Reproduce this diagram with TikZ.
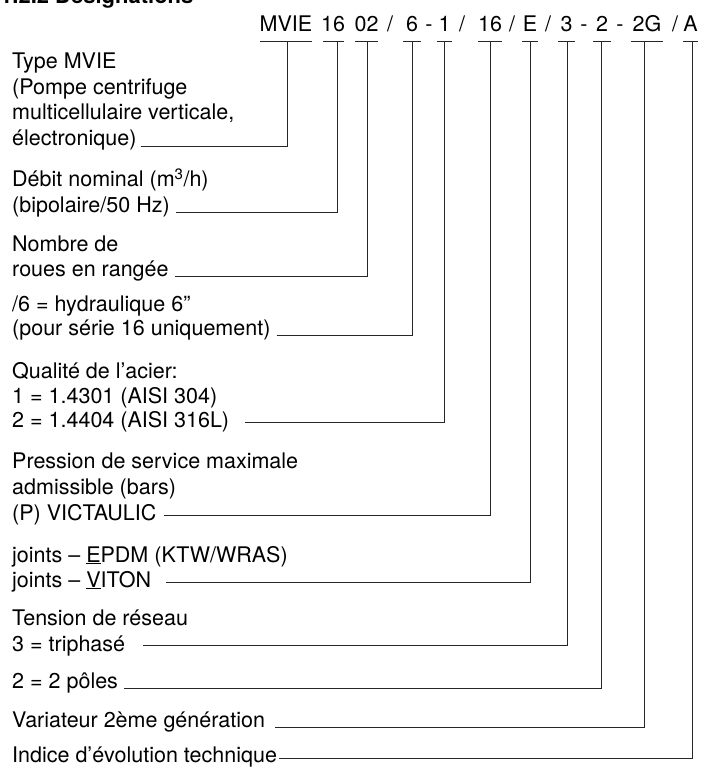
\documentclass[tikz,border=0pt]{standalone}
\usepackage{fontspec}
\setmainfont{TeX Gyre Heros}
\newcommand\lbfont{\fontsize{21.5}{24}\selectfont}
\newcommand\ttlfont{\fontsize{22}{24}\selectfont\bfseries}
\tikzset{
  lbl/.style={anchor=base west, inner sep=0pt, font=\lbfont},
  codetok/.style={anchor=base, inner sep=0pt, font=\lbfont},
  ttl/.style={anchor=base west, inner sep=0pt, font=\ttlfont},
  bar/.style={line width=0.9pt, black!85},
  lead/.style={line width=0.9pt, black!85},
}
\begin{document}
\begin{tikzpicture}[x=1pt,y=-1pt]
\fill[white] (0,0) rectangle (702,767);
\useasboundingbox (0,0) rectangle (702,767);
\begin{scope}
\clip (0,0) rectangle (702,767);
% title (cut by the top edge)
\node[ttl] (title) at (0,4) {1.2.2 Désignations};

% code line
\def\cb{32}
\node[codetok] (c1) at (286,\cb) {MVIE};
\node[codetok] (c2) at (333,\cb) {16};
\node[codetok] (c3) at (366.5,\cb) {02};
\node[codetok] (s1) at (390,\cb) {/};
\node[codetok] (c4) at (412,\cb) {6};
\node[codetok] (s2) at (429,\cb) {-};
\node[codetok] (c5) at (444.5,\cb) {1};
\node[codetok] (s3) at (462,\cb) {/};
\node[codetok] (c6) at (490,\cb) {16};
\node[codetok] (s4) at (512,\cb) {/};
\node[codetok] (c7) at (530,\cb) {E};
\node[codetok] (s5) at (548,\cb) {/};
\node[codetok] (c8) at (566.5,\cb) {3};
\node[codetok] (s6) at (584,\cb) {-};
\node[codetok] (c9) at (602,\cb) {2};
\node[codetok] (s7) at (620,\cb) {-};
\node[codetok] (c10) at (647,\cb) {2G};
\node[codetok] (s8) at (675,\cb) {/};
\node[codetok] (c11) at (690.5,\cb) {A};

% bars under the code parts
\def\by{41}
\draw[bar] (260,\by) -- (312,\by);
\draw[bar] (323,\by) -- (344,\by);
\draw[bar] (355,\by) -- (378,\by);
\draw[bar] (403,\by) -- (421,\by);
\draw[bar] (437,\by) -- (452,\by);
\draw[bar] (478,\by) -- (502,\by);
\draw[bar] (522,\by) -- (538,\by);
\draw[bar] (558,\by) -- (575,\by);
\draw[bar] (593,\by) -- (611,\by);
\draw[bar] (631,\by) -- (663,\by);
\draw[bar] (683,\by) -- (698,\by);
\coordinate (v1) at (287,\by);
\coordinate (v2) at (337,\by);
\coordinate (v3) at (367,\by);
\coordinate (v4) at (412,\by);
\coordinate (v5) at (444,\by);
\coordinate (v6) at (490,\by);
\coordinate (v7) at (530,\by);
\coordinate (v8) at (567,\by);
\coordinate (v9) at (601,\by);
\coordinate (v10) at (644,\by);
\coordinate (v11) at (692,\by);

% descriptions
\def\lx{12}
\node[lbl] (t1a) at (\lx,69) {Type MVIE};
\node[lbl] (t1b) at (\lx,94.5) {(Pompe centrifuge};
\node[lbl] (t1c) at (\lx,120) {multicellulaire verticale,};
\node[lbl] (t1) at (\lx,146) {électronique)};

\node[lbl] (t2a) at (\lx,187) {Débit nominal (m\textsuperscript{3}/h)};
\node[lbl] (t2) at (\lx,212) {(bipolaire/50 Hz)};

\node[lbl] (t3a) at (\lx,251) {Nombre de};
\node[lbl] (t3) at (\lx,276) {roues en rangée};

\node[lbl] (t4a) at (\lx,311) {/6 = hydraulique 6”};
\node[lbl] (t4) at (\lx,335) {(pour série 16 uniquement)};

\node[lbl] (t5a) at (\lx,378) {Qualité de l’acier:};
\node[lbl] (t5b) at (\lx,403) {1 = 1.4301 (AISI 304)};
\node[lbl] (t5) at (\lx,427) {2 = 1.4404 (AISI 316L)};

\node[lbl] (t6a) at (\lx,468) {Pression de service maximale};
\node[lbl] (t6b) at (\lx,494) {admissible (bars)};
\node[lbl] (t6) at (\lx,520) {(P) VICTAULIC};

\node[lbl] (t7a) at (\lx,562) {joints – \underline{E}PDM (KTW/WRAS)};
\node[lbl] (t7) at (\lx,587) {joints – \underline{V}ITON};

\node[lbl] (t8a) at (\lx,625) {Tension de réseau};
\node[lbl] (t8) at (\lx,651) {3 = triphasé};

\node[lbl] (t9) at (\lx,688) {2 = 2 pôles};
\node[lbl] (t10) at (\lx,727) {Variateur 2ème génération};
\node[lbl] (t11) at (\lx,762) {Indice d’évolution technique};

% leaders
\draw[lead] ([xshift=4pt]t1.base east) -| (v1);
\draw[lead] ([xshift=6pt]t2.base east) -| (v2);
\draw[lead] ([xshift=6pt]t3.base east) -| (v3);
\draw[lead] ([xshift=6pt]t4.base east) -| (v4);
\draw[lead] ([xshift=16pt,yshift=5pt]t5.base east) -| (v5);
\draw[lead] ([xshift=7pt,yshift=5pt]t6.base east) -| (v6);
\draw[lead] ([xshift=15pt,yshift=5pt]t7.base east) -| (v7);
\draw[lead] ([xshift=18pt,yshift=6pt]t8.base east) -| (v8);
\draw[lead] ([xshift=6pt]t9.base east) -| (v9);
\draw[lead] ([xshift=10pt]t10.base east) -| (v10);
\draw[lead] ([xshift=2pt,yshift=4pt]t11.base east) -| (v11);
\end{scope}
\end{tikzpicture}
\end{document}
